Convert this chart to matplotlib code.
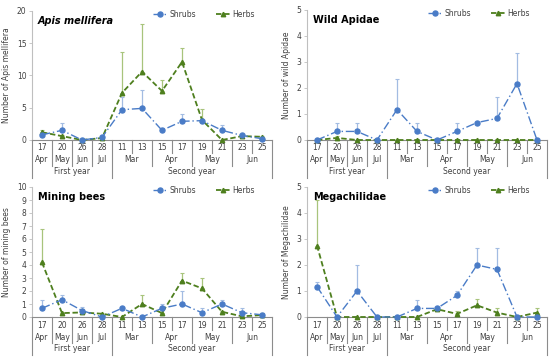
import numpy as np
import matplotlib.pyplot as plt
import matplotlib.transforms as mtransforms

# Categories
days = ['17', '20', '26', '28', '11', '13', '15', '17', '19', '21', '23', '25']
month_labels = ['Apr', 'May', 'Jun', 'Jul', 'Mar', 'Apr', 'May', 'Jun']
month_groups = [[0], [1], [2], [3], [4, 5], [6, 7], [8, 9], [10, 11]]
year_labels = ['First year', 'Second year']
year_groups = [[0, 1, 2, 3], [4, 5, 6, 7, 8, 9, 10, 11]]

# Apis mellifera
apis_shrubs = [0.8, 1.5, 0.0, 0.4, 4.7, 4.9, 1.5, 2.9, 3.0, 1.5, 0.7, 0.2]
apis_shrubs_top = [1.3, 2.7, 0.0, 0.5, 6.7, 7.7, 1.5, 4.0, 3.2, 2.4, 0.9, 0.3]
apis_herbs = [1.2, 0.6, 0.0, 0.3, 7.3, 10.6, 7.6, 12.1, 3.1, 0.0, 0.6, 0.5]
apis_herbs_top = [1.5, 0.7, 0.0, 0.4, 13.7, 18.0, 9.3, 14.3, 4.8, 0.0, 1.0, 0.6]

# Wild Apidae
wild_shrubs = [0.0, 0.33, 0.33, 0.0, 1.17, 0.33, 0.0, 0.33, 0.67, 0.83, 2.17, 0.0]
wild_shrubs_top = [0.0, 0.67, 0.67, 0.0, 2.33, 0.67, 0.0, 0.67, 0.67, 1.67, 3.33, 0.0]
wild_herbs = [0.0, 0.08, 0.0, 0.0, 0.0, 0.0, 0.0, 0.0, 0.0, 0.0, 0.0, 0.0]
wild_herbs_top = [0.0, 0.15, 0.0, 0.0, 0.0, 0.0, 0.0, 0.0, 0.0, 0.0, 0.0, 0.0]

# Mining bees
mining_shrubs = [0.67, 1.33, 0.5, 0.0, 0.67, 0.0, 0.67, 1.0, 0.33, 1.0, 0.33, 0.17]
mining_shrubs_top = [1.33, 1.67, 0.75, 0.0, 0.67, 0.0, 1.0, 2.0, 0.67, 1.33, 0.67, 0.3]
mining_herbs = [4.2, 0.3, 0.35, 0.25, 0.0, 1.0, 0.3, 2.8, 2.2, 0.4, 0.05, 0.15]
mining_herbs_top = [6.75, 0.3, 0.6, 0.3, 0.0, 1.67, 0.3, 3.35, 3.0, 0.5, 0.05, 0.3]

# Megachilidae
mega_shrubs = [1.17, 0.0, 1.0, 0.0, 0.0, 0.33, 0.33, 0.83, 2.0, 1.83, 0.0, 0.0]
mega_shrubs_top = [1.33, 0.0, 2.0, 0.0, 0.0, 0.67, 0.33, 1.0, 2.67, 2.67, 0.0, 0.0]
mega_herbs = [2.75, 0.0, 0.0, 0.0, 0.0, 0.0, 0.3, 0.12, 0.45, 0.17, 0.0, 0.17]
mega_herbs_top = [4.5, 0.0, 0.0, 0.0, 0.0, 0.0, 0.3, 0.25, 0.7, 0.33, 0.0, 0.33]

panels = [
    ('Apis mellifera', 'Number of Apis mellifera', 20, 5, apis_shrubs, apis_shrubs_top, apis_herbs, apis_herbs_top, True),
    ('Wild Apidae', 'Number of wild Apidae', 5, 1, wild_shrubs, wild_shrubs_top, wild_herbs, wild_herbs_top, False),
    ('Mining bees', 'Number of mining bees', 10, 1, mining_shrubs, mining_shrubs_top, mining_herbs, mining_herbs_top, False),
    ('Megachilidae', 'Number of Megachilidae', 5, 1, mega_shrubs, mega_shrubs_top, mega_herbs, mega_herbs_top, False),
]

W, H = 550, 357
# pixel boxes: left, top, right, bottom
boxes = [(32, 11, 272, 140), (307, 10, 547, 140), (32, 187, 272, 317), (307, 187, 547, 317)]

blue = '#4A7CC7'
blue_err = '#A3BCE2'
green = '#4E7F1E'
green_err = '#A8C47C'
sep_col = '#8C8C8C'

fig = plt.figure(figsize=(W / 100, H / 100), dpi=100)

x = np.arange(len(days))

for (title, ylabel, ymax, step, sh, sh_top, he, he_top, italic), (l, t, r, b) in zip(panels, boxes):
    ax = fig.add_axes([l / W, 1 - b / H, (r - l) / W, (b - t) / H])
    hpx = b - t

    sh = np.array(sh); he = np.array(he)
    ax.errorbar(x, sh, yerr=[np.zeros_like(sh), np.array(sh_top) - sh], fmt='none',
                ecolor=blue_err, elinewidth=0.9, capsize=1.5, capthick=0.8, zorder=2)
    ax.errorbar(x, he, yerr=[np.zeros_like(he), np.array(he_top) - he], fmt='none',
                ecolor=green_err, elinewidth=0.9, capsize=1.5, capthick=0.8, zorder=2)
    ax.plot(x, sh, color=blue, linestyle=(0, (6, 2, 1, 2)), linewidth=1.0,
            marker='o', markersize=3.6, label='Shrubs', zorder=4, clip_on=False)
    ax.plot(x, he, color=green, linestyle=(0, (3, 1.5)), linewidth=1.3,
            marker='^', markersize=3.2, label='Herbs', zorder=3, clip_on=False)

    ax.set_xlim(-0.5, len(days) - 0.5)
    ax.set_ylim(0, ymax)
    ax.set_yticks(np.arange(0, ymax + step / 2, step))
    ax.tick_params(axis='y', labelsize=5.5, length=2, width=0.6, color='#BFBFBF',
                   labelcolor='#404040', pad=2)
    ax.set_xticks([])
    for s in ['top', 'right']:
        ax.spines[s].set_visible(False)
    ax.spines['left'].set_color('#BFBFBF')
    ax.spines['left'].set_linewidth(0.8)
    ax.spines['bottom'].set_color('#8C8C8C')
    ax.spines['bottom'].set_linewidth(0.8)

    ax.set_ylabel(ylabel, fontsize=5.5, color='#404040', labelpad=4)

    ax.text(0.025, 0.965, title, transform=ax.transAxes, fontsize=7, fontweight='bold',
            fontstyle='italic' if italic else 'normal', va='top', ha='left', color='black')

    ax.legend(loc='upper right', bbox_to_anchor=(0.955, 1.06), ncol=2, frameon=False,
              fontsize=5.5, handlelength=1.8, columnspacing=2.6, handletextpad=0.3,
              labelcolor='#404040')

    # category table below the axis
    trans = mtransforms.blended_transform_factory(ax.transData, ax.transAxes)
    r1 = -13 / hpx
    r2 = -26 / hpx
    r3 = -38 / hpx
    for i, d in enumerate(days):
        ax.text(i, -8 / hpx, d, transform=trans, ha='center', va='center',
                fontsize=5.5, color='#404040')
    for lab, grp in zip(month_labels, month_groups):
        ax.text(np.mean(grp), -20 / hpx, lab, transform=trans, ha='center', va='center',
                fontsize=5.5, color='#404040')
    for lab, grp in zip(year_labels, year_groups):
        ax.text(np.mean(grp), -31.5 / hpx, lab, transform=trans, ha='center', va='center',
                fontsize=5.5, color='#404040')

    month_edges = set(g[0] - 0.5 for g in month_groups)
    year_edges = set(g[0] - 0.5 for g in year_groups) | {len(days) - 0.5}
    for k in range(len(days) + 1):
        xe = k - 0.5
        if xe in year_edges:
            yb = r3
        elif xe in month_edges:
            yb = r2
        else:
            yb = r1
        ax.plot([xe, xe], [0, yb], transform=trans, color=sep_col, linewidth=0.8,
                clip_on=False)

fig.savefig('out.png', dpi=100)
